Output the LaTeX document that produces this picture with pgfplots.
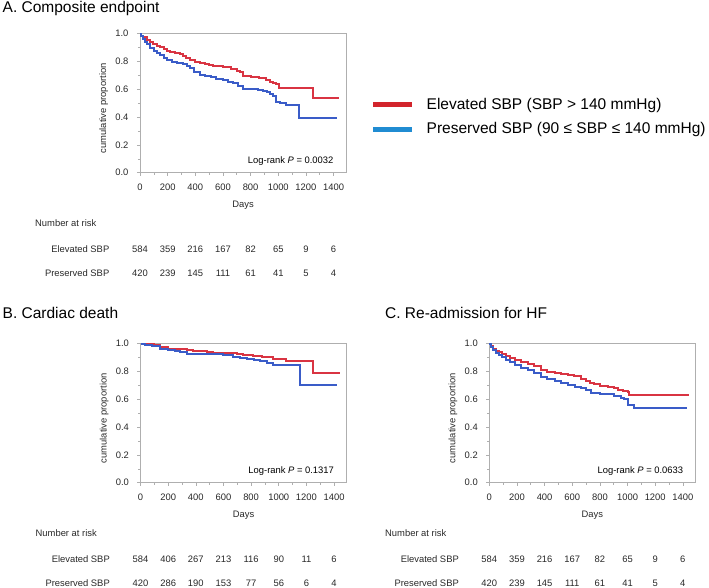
\documentclass[border=0pt]{standalone}
\usepackage{fontspec}
\setmainfont{Liberation Sans}
\usepackage{pgfplots}
\pgfplotsset{compat=1.18}

\definecolor{kmred}{RGB}{217,52,66}
\definecolor{kmblue}{RGB}{58,92,200}
\definecolor{legred}{RGB}{210,36,44}
\definecolor{legblue}{RGB}{32,140,210}
\definecolor{framegray}{RGB}{175,175,175}
\definecolor{txt}{RGB}{40,40,40}

\newcommand{\smallf}{\fontsize{9.4}{11}\selectfont}
\newcommand{\bigf}{\fontsize{15.5}{18}\selectfont}

% one column of the number-at-risk table, placed under the tick at #1 days
\newcommand{\risk}[3]{%
  \node[anchor=base, font=\smallf, text=txt, inner sep=0pt] at ([yshift=-79.7pt]axis cs:#1,0) {#2};
  \node[anchor=base, font=\smallf, text=txt, inner sep=0pt] at ([yshift=-104pt]axis cs:#1,0) {#3};}

\pgfplotsset{
  km/.style={
    scale only axis, width=206pt, height=139pt,
    xmin=0, xmax=1490, ymin=0, ymax=1,
    xtick={0,200,...,1400}, ytick={0,0.2,...,1.0},
    minor tick num=1,
    tick align=outside, tick pos=left,
    major tick length=3pt, minor tick length=2pt,
    axis line style={framegray, line width=0.9pt},
    every tick/.style={framegray, line width=0.6pt},
    tick label style={font=\smallf, text=txt},
    /pgf/number format/assume math mode=true,
    /pgf/number format/set thousands separator={},
    yticklabel style={/pgf/number format/.cd, fixed, fixed zerofill, precision=1},
    xticklabel shift=4.5pt, yticklabel shift=5pt,
    clip=false,
  },
  kmline/.style={const plot, mark=none, line width=2pt},
}

\begin{document}
\begin{tikzpicture}
\path[use as bounding box] (0,0) rectangle (709pt,-588pt);

% panel titles
\node[anchor=base west, font=\bigf, inner sep=0pt] at (2.5pt,-12.7pt) {A. Composite endpoint};
\node[anchor=base west, font=\bigf, inner sep=0pt] at (2.5pt,-318pt) {B. Cardiac death};
\node[anchor=base west, font=\bigf, inner sep=0pt] at (385pt,-318pt) {C. Re-admission for HF};

% legend
\draw[legred, line width=5pt] (373pt,-105pt) -- (412pt,-105pt);
\node[anchor=west, font=\bigf, inner sep=0pt] at (426.5pt,-105pt) {Elevated SBP (SBP > 140 mmHg)};
\draw[legblue, line width=5pt] (373pt,-129.5pt) -- (412pt,-129.5pt);
\node[anchor=west, font=\bigf, inner sep=0pt] at (426.5pt,-129.5pt) {Preserved SBP (90 ≤ SBP ≤ 140 mmHg)};

% ---------------- A ----------------
\begin{axis}[km, at={(140pt,-172.7pt)}, anchor=south west]
\addplot[kmline, kmred] coordinates {
 (0,1.0) (10,0.985) (25,0.975) (48,0.955) (70,0.94) (92,0.925) (120,0.91)
 (144,0.902) (170,0.89) (195,0.875) (216,0.866) (250,0.858) (288,0.852)
 (310,0.84) (336,0.822) (365,0.81) (400,0.797) (432,0.789) (470,0.781)
 (500,0.776) (528,0.771) (570,0.766) (600,0.762) (624,0.757) (660,0.745)
 (700,0.733) (720,0.722) (742,0.695) (800,0.692) (830,0.685) (862,0.68)
 (911,0.668) (940,0.655) (965,0.645) (984,0.638) (1008,0.612) (1248,0.535)
 (1440,0.535)};
\addplot[kmline, kmblue] coordinates {
 (0,1.0) (8,0.98) (20,0.96) (35,0.94) (48,0.925) (72,0.895) (100,0.875)
 (120,0.86) (144,0.845) (170,0.825) (192,0.81) (230,0.798) (270,0.79)
 (312,0.783) (340,0.765) (360,0.75) (390,0.728) (432,0.703) (470,0.695)
 (510,0.688) (552,0.675) (600,0.665) (640,0.655) (672,0.645) (710,0.625)
 (744,0.605) (800,0.6) (850,0.596) (888,0.59) (915,0.578) (940,0.568)
 (960,0.555) (984,0.51) (1010,0.505) (1056,0.487) (1152,0.39) (1423,0.39)};
\node[anchor=east, font=\smallf, inner sep=0pt] at ([xshift=-12.4pt, yshift=11.7pt]rel axis cs:1,0) {Log-rank \textit{P} = 0.0032};
\node[rotate=90, font=\smallf, text=txt, inner sep=0pt] at ([xshift=-36.4pt, yshift=-5pt]rel axis cs:0,0.5) {cumulative proportion};
\node[anchor=base, font=\smallf, text=txt, inner sep=0pt] at ([yshift=-34.7pt]rel axis cs:0.5,0) {Days};
\node[anchor=base west, font=\smallf, text=txt, inner sep=0pt] at ([xshift=-105pt, yshift=-53.7pt]rel axis cs:0,0) {Number at risk};
\node[anchor=base east, font=\smallf, text=txt, inner sep=0pt] at ([xshift=-30.5pt, yshift=-79.7pt]rel axis cs:0,0) {Elevated SBP};
\node[anchor=base east, font=\smallf, text=txt, inner sep=0pt] at ([xshift=-30.5pt, yshift=-104pt]rel axis cs:0,0) {Preserved SBP};
\risk{0}{584}{420}\risk{200}{359}{239}\risk{400}{216}{145}\risk{600}{167}{111}
\risk{800}{82}{61}\risk{1000}{65}{41}\risk{1200}{9}{5}\risk{1400}{6}{4}
\end{axis}

% ---------------- B ----------------
\begin{axis}[km, at={(140.5pt,-482.7pt)}, anchor=south west]
\addplot[kmline, kmred] coordinates {
 (0,1.0) (100,0.99) (144,0.975) (200,0.965) (288,0.96) (336,0.955)
 (380,0.948) (432,0.945) (480,0.94) (528,0.936) (600,0.935) (672,0.93)
 (700,0.925) (744,0.916) (816,0.911) (880,0.905) (960,0.892) (1056,0.877)
 (1248,0.79) (1440,0.79)};
\addplot[kmline, kmblue] coordinates {
 (0,1.0) (30,0.99) (80,0.98) (144,0.962) (200,0.952) (250,0.945) (288,0.94)
 (336,0.928) (360,0.925) (520,0.923) (600,0.92) (672,0.905) (720,0.895)
 (768,0.89) (820,0.88) (864,0.872) (912,0.86) (960,0.845) (1152,0.7)
 (1423,0.7)};
\node[anchor=east, font=\smallf, inner sep=0pt] at ([xshift=-12.4pt, yshift=11.7pt]rel axis cs:1,0) {Log-rank \textit{P} = 0.1317};
\node[rotate=90, font=\smallf, text=txt, inner sep=0pt] at ([xshift=-36.4pt, yshift=-5pt]rel axis cs:0,0.5) {cumulative proportion};
\node[anchor=base, font=\smallf, text=txt, inner sep=0pt] at ([yshift=-34.7pt]rel axis cs:0.5,0) {Days};
\node[anchor=base west, font=\smallf, text=txt, inner sep=0pt] at ([xshift=-105pt, yshift=-53.7pt]rel axis cs:0,0) {Number at risk};
\node[anchor=base east, font=\smallf, text=txt, inner sep=0pt] at ([xshift=-30.5pt, yshift=-79.7pt]rel axis cs:0,0) {Elevated SBP};
\node[anchor=base east, font=\smallf, text=txt, inner sep=0pt] at ([xshift=-30.5pt, yshift=-104pt]rel axis cs:0,0) {Preserved SBP};
\risk{0}{584}{420}\risk{200}{406}{286}\risk{400}{267}{190}\risk{600}{213}{153}
\risk{800}{116}{77}\risk{1000}{90}{56}\risk{1200}{11}{6}\risk{1400}{6}{4}
\end{axis}

% ---------------- C ----------------
\begin{axis}[km, at={(489.3pt,-482.7pt)}, anchor=south west]
\addplot[kmline, kmred] coordinates {
 (0,1.0) (10,0.98) (30,0.965) (50,0.95) (70,0.94) (89,0.928) (120,0.91)
 (150,0.895) (185,0.88) (230,0.866) (280,0.856) (320,0.84) (376,0.813)
 (420,0.8) (472,0.789) (520,0.78) (568,0.773) (610,0.765) (664,0.749)
 (700,0.735) (730,0.72) (760,0.708) (800,0.698) (856,0.689) (900,0.678)
 (928,0.665) (970,0.66) (1000,0.653) (1012,0.634) (1443,0.634)};
\addplot[kmline, kmblue] coordinates {
 (0,1.0) (10,0.975) (30,0.955) (50,0.935) (70,0.92) (89,0.904) (120,0.885)
 (150,0.865) (185,0.845) (230,0.825) (280,0.809) (320,0.79) (376,0.761)
 (420,0.745) (472,0.732) (520,0.716) (568,0.701) (620,0.692) (664,0.684)
 (700,0.67) (736,0.646) (800,0.64) (860,0.635) (904,0.622) (950,0.612)
 (976,0.605) (1000,0.557) (1048,0.541) (1431,0.541)};
\node[anchor=east, font=\smallf, inner sep=0pt] at ([xshift=-12pt, yshift=11.7pt]rel axis cs:1,0) {Log-rank \textit{P} = 0.0633};
\node[rotate=90, font=\smallf, text=txt, inner sep=0pt] at ([xshift=-36.4pt, yshift=-5pt]rel axis cs:0,0.5) {cumulative proportion};
\node[anchor=base, font=\smallf, text=txt, inner sep=0pt] at ([yshift=-34.7pt]rel axis cs:0.5,0) {Days};
\node[anchor=base west, font=\smallf, text=txt, inner sep=0pt] at ([xshift=-104.3pt, yshift=-53.7pt]rel axis cs:0,0) {Number at risk};
\node[anchor=base east, font=\smallf, text=txt, inner sep=0pt] at ([xshift=-30.3pt, yshift=-79.7pt]rel axis cs:0,0) {Elevated SBP};
\node[anchor=base east, font=\smallf, text=txt, inner sep=0pt] at ([xshift=-30.3pt, yshift=-104pt]rel axis cs:0,0) {Preserved SBP};
\risk{0}{584}{420}\risk{200}{359}{239}\risk{400}{216}{145}\risk{600}{167}{111}
\risk{800}{82}{61}\risk{1000}{65}{41}\risk{1200}{9}{5}\risk{1400}{6}{4}
\end{axis}
\end{tikzpicture}
\end{document}
